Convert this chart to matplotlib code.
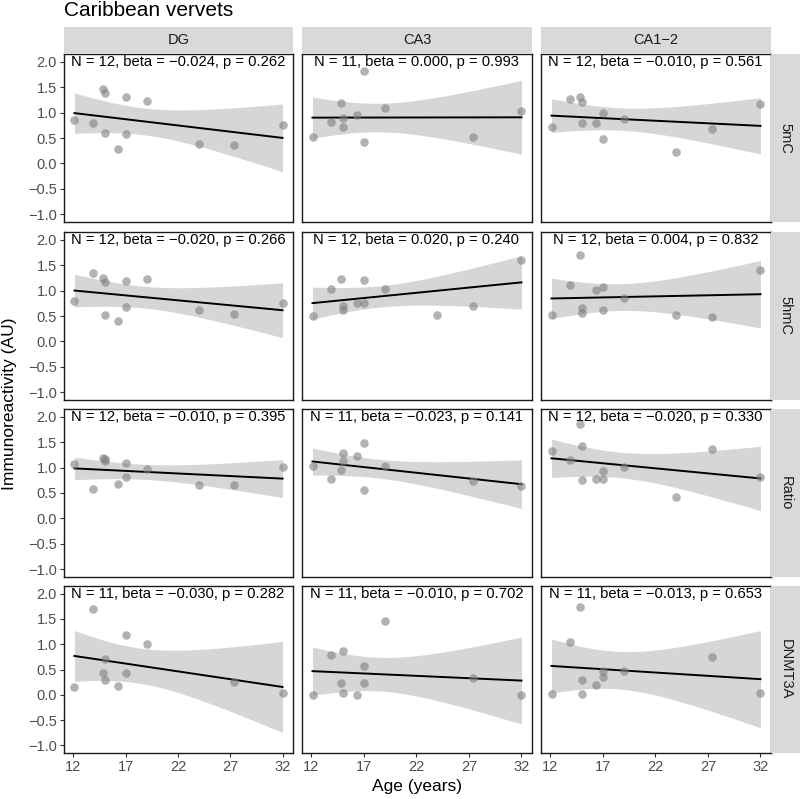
import numpy as np
import matplotlib.pyplot as plt

plt.rcParams.update({"font.family": ["Liberation Sans", "DejaVu Sans"]})

regions = ["DG", "CA3", "CA1\u22122"]
markers = ["5mC", "5hmC", "Ratio", "DNMT3A"]

# ages (years) for each panel, row by row (marker) and column (region)
age_12 = [12.1, 13.9, 14.8, 15.0, 15.0, 16.3, 17.0, 17.0, 19.0, 24.0, 27.4, 32.0]
age_no24 = [12.1, 13.9, 14.8, 15.0, 15.0, 16.3, 17.0, 17.0, 19.0, 27.4, 32.0]

ages = {
    ("5mC", "DG"): age_12,
    ("5mC", "CA3"): age_no24,
    ("5mC", "CA1\u22122"): age_12,
    ("5hmC", "DG"): age_12,
    ("5hmC", "CA3"): age_12,
    ("5hmC", "CA1\u22122"): age_12,
    ("Ratio", "DG"): age_12,
    ("Ratio", "CA3"): age_no24,
    ("Ratio", "CA1\u22122"): age_12,
    ("DNMT3A", "DG"): age_no24,
    ("DNMT3A", "CA3"): age_no24,
    ("DNMT3A", "CA1\u22122"): age_no24,
}

values = {
    ("5mC", "DG"): [0.85, 0.79, 1.46, 1.38, 0.59, 0.28, 1.30, 0.57, 1.22, 0.39, 0.36, 0.76],
    ("5mC", "CA3"): [0.52, 0.81, 1.18, 0.89, 0.71, 0.95, 1.81, 0.43, 1.08, 0.51, 1.03],
    ("5mC", "CA1\u22122"): [0.71, 1.27, 1.30, 1.20, 0.80, 0.79, 1.00, 0.48, 0.87, 0.22, 0.67, 1.17],
    ("5hmC", "DG"): [0.79, 1.35, 1.24, 1.17, 0.51, 0.41, 1.19, 0.68, 1.23, 0.62, 0.54, 0.75],
    ("5hmC", "CA3"): [0.50, 1.03, 1.22, 0.69, 0.62, 0.76, 1.20, 0.76, 1.04, 0.52, 0.70, 1.60],
    ("5hmC", "CA1\u22122"): [0.52, 1.10, 1.69, 0.65, 0.56, 1.01, 1.06, 0.61, 0.85, 0.52, 0.48, 1.41],
    ("Ratio", "DG"): [1.07, 0.57, 1.18, 1.17, 1.13, 0.68, 1.09, 0.82, 0.98, 0.65, 0.66, 1.01],
    ("Ratio", "CA3"): [1.03, 0.77, 0.95, 1.13, 1.28, 1.22, 1.49, 0.55, 1.03, 0.74, 0.63],
    ("Ratio", "CA1\u22122"): [1.33, 1.15, 1.86, 1.42, 0.75, 0.77, 0.93, 0.78, 1.01, 0.43, 1.37, 0.82],
    ("DNMT3A", "DG"): [0.16, 1.70, 0.44, 0.71, 0.30, 0.18, 1.19, 0.44, 1.00, 0.25, 0.03],
    ("DNMT3A", "CA3"): [0.00, 0.78, 0.24, 0.87, 0.04, 0.00, 0.57, 0.23, 1.45, 0.34, 0.00],
    ("DNMT3A", "CA1\u22122"): [0.02, 1.05, 1.74, 0.30, 0.02, 0.19, 0.47, 0.36, 0.47, 0.74, 0.04],
}

labels = {
    ("5mC", "DG"): "N = 12, beta = \u22120.024, p = 0.262",
    ("5mC", "CA3"): "N = 11, beta = 0.000, p = 0.993",
    ("5mC", "CA1\u22122"): "N = 12, beta = \u22120.010, p = 0.561",
    ("5hmC", "DG"): "N = 12, beta = \u22120.020, p = 0.266",
    ("5hmC", "CA3"): "N = 12, beta = 0.020, p = 0.240",
    ("5hmC", "CA1\u22122"): "N = 12, beta = 0.004, p = 0.832",
    ("Ratio", "DG"): "N = 12, beta = \u22120.010, p = 0.395",
    ("Ratio", "CA3"): "N = 11, beta = \u22120.023, p = 0.141",
    ("Ratio", "CA1\u22122"): "N = 12, beta = \u22120.020, p = 0.330",
    ("DNMT3A", "DG"): "N = 11, beta = \u22120.030, p = 0.282",
    ("DNMT3A", "CA3"): "N = 11, beta = \u22120.010, p = 0.702",
    ("DNMT3A", "CA1\u22122"): "N = 11, beta = \u22120.013, p = 0.653",
}

x_ticks = [12, 17, 22, 27, 32]
y_ticks = [-1.0, -0.5, 0.0, 0.5, 1.0, 1.5, 2.0]

# two-sided 95% t quantiles by residual degrees of freedom
t975 = {9: 2.262, 10: 2.228}

W, H = 800, 799
col_x = [(64, 293), (302, 532), (541, 771)]
row_y = [(54, 222), (232, 400), (409, 577), (586, 753)]


def rect(x0, y0, x1, y1):
    return [x0 / W, 1 - y1 / H, (x1 - x0) / W, (y1 - y0) / H]


def smooth(x, y):
    x = np.asarray(x)
    y = np.asarray(y)
    n = len(x)
    b, a = np.polyfit(x, y, 1)
    res = y - (a + b * x)
    s = np.sqrt(np.sum(res ** 2) / (n - 2))
    xs = np.linspace(x.min(), x.max(), 80)
    se = s * np.sqrt(1 / n + (xs - x.mean()) ** 2 / np.sum((x - x.mean()) ** 2))
    fit = a + b * xs
    t = t975[n - 2]
    return xs, fit, fit - t * se, fit + t * se


fig = plt.figure(figsize=(8, 7.99), dpi=100)

for i, m in enumerate(markers):
    y0, y1 = row_y[i]
    for j, r in enumerate(regions):
        x0, x1 = col_x[j]
        ax = fig.add_axes(rect(x0, y0, x1, y1))
        x = ages[(m, r)]
        y = values[(m, r)]
        xs, fit, lo, hi = smooth(x, y)
        ax.fill_between(xs, lo, hi, color="#999999", alpha=0.4, lw=0, zorder=1)
        ax.plot(xs, fit, color="black", lw=1.4, zorder=2)
        ax.scatter(x, y, s=38, color="#808080", alpha=0.6, lw=0, zorder=3)
        ax.text(22, 2.0, labels[(m, r)], ha="center", va="center",
                fontsize=10.6, color="black", zorder=4)
        ax.set_xlim(11.1, 33.0)
        ax.set_ylim(-1.15, 2.15)
        ax.set_xticks(x_ticks)
        ax.set_yticks(y_ticks)
        ax.tick_params(length=3, color="#333333", labelsize=10.5,
                       labelcolor="#4d4d4d", pad=2)
        if j > 0:
            ax.tick_params(labelleft=False, left=False)
        else:
            ax.set_yticklabels([f"{v:.1f}".replace("-", "\u2212") for v in y_ticks])
        if i < len(markers) - 1:
            ax.tick_params(labelbottom=False, bottom=False)
        for sp in ax.spines.values():
            sp.set_color("#1a1a1a")
            sp.set_linewidth(1.0)

        if i == 0:
            sa = fig.add_axes(rect(x0, 27, x1, 54))
            sa.set_facecolor("#d9d9d9")
            sa.set_xticks([])
            sa.set_yticks([])
            for sp in sa.spines.values():
                sp.set_visible(False)
            sa.text(0.5, 0.5, r, ha="center", va="center", fontsize=10.5,
                    color="#1a1a1a", transform=sa.transAxes)

    sa = fig.add_axes(rect(771, y0, 800, y1))
    sa.set_facecolor("#d9d9d9")
    sa.set_xticks([])
    sa.set_yticks([])
    for sp in sa.spines.values():
        sp.set_visible(False)
    sa.text(0.5, 0.5, m, ha="center", va="center", fontsize=10.5, rotation=270,
            color="#1a1a1a", transform=sa.transAxes)

fig.text(64 / W, 1 - 11 / H, "Caribbean vervets", ha="left", va="center",
         fontsize=15, color="black")
fig.text(10 / W, 1 - 404 / H, "Immunoreactivity (AU)", ha="center",
         va="center", rotation=90, fontsize=12.5, color="black")
fig.text(417 / W, 1 - 787 / H, "Age (years)", ha="center", va="center",
         fontsize=12.5, color="black")

fig.savefig("out.png", dpi=100, facecolor="white")
